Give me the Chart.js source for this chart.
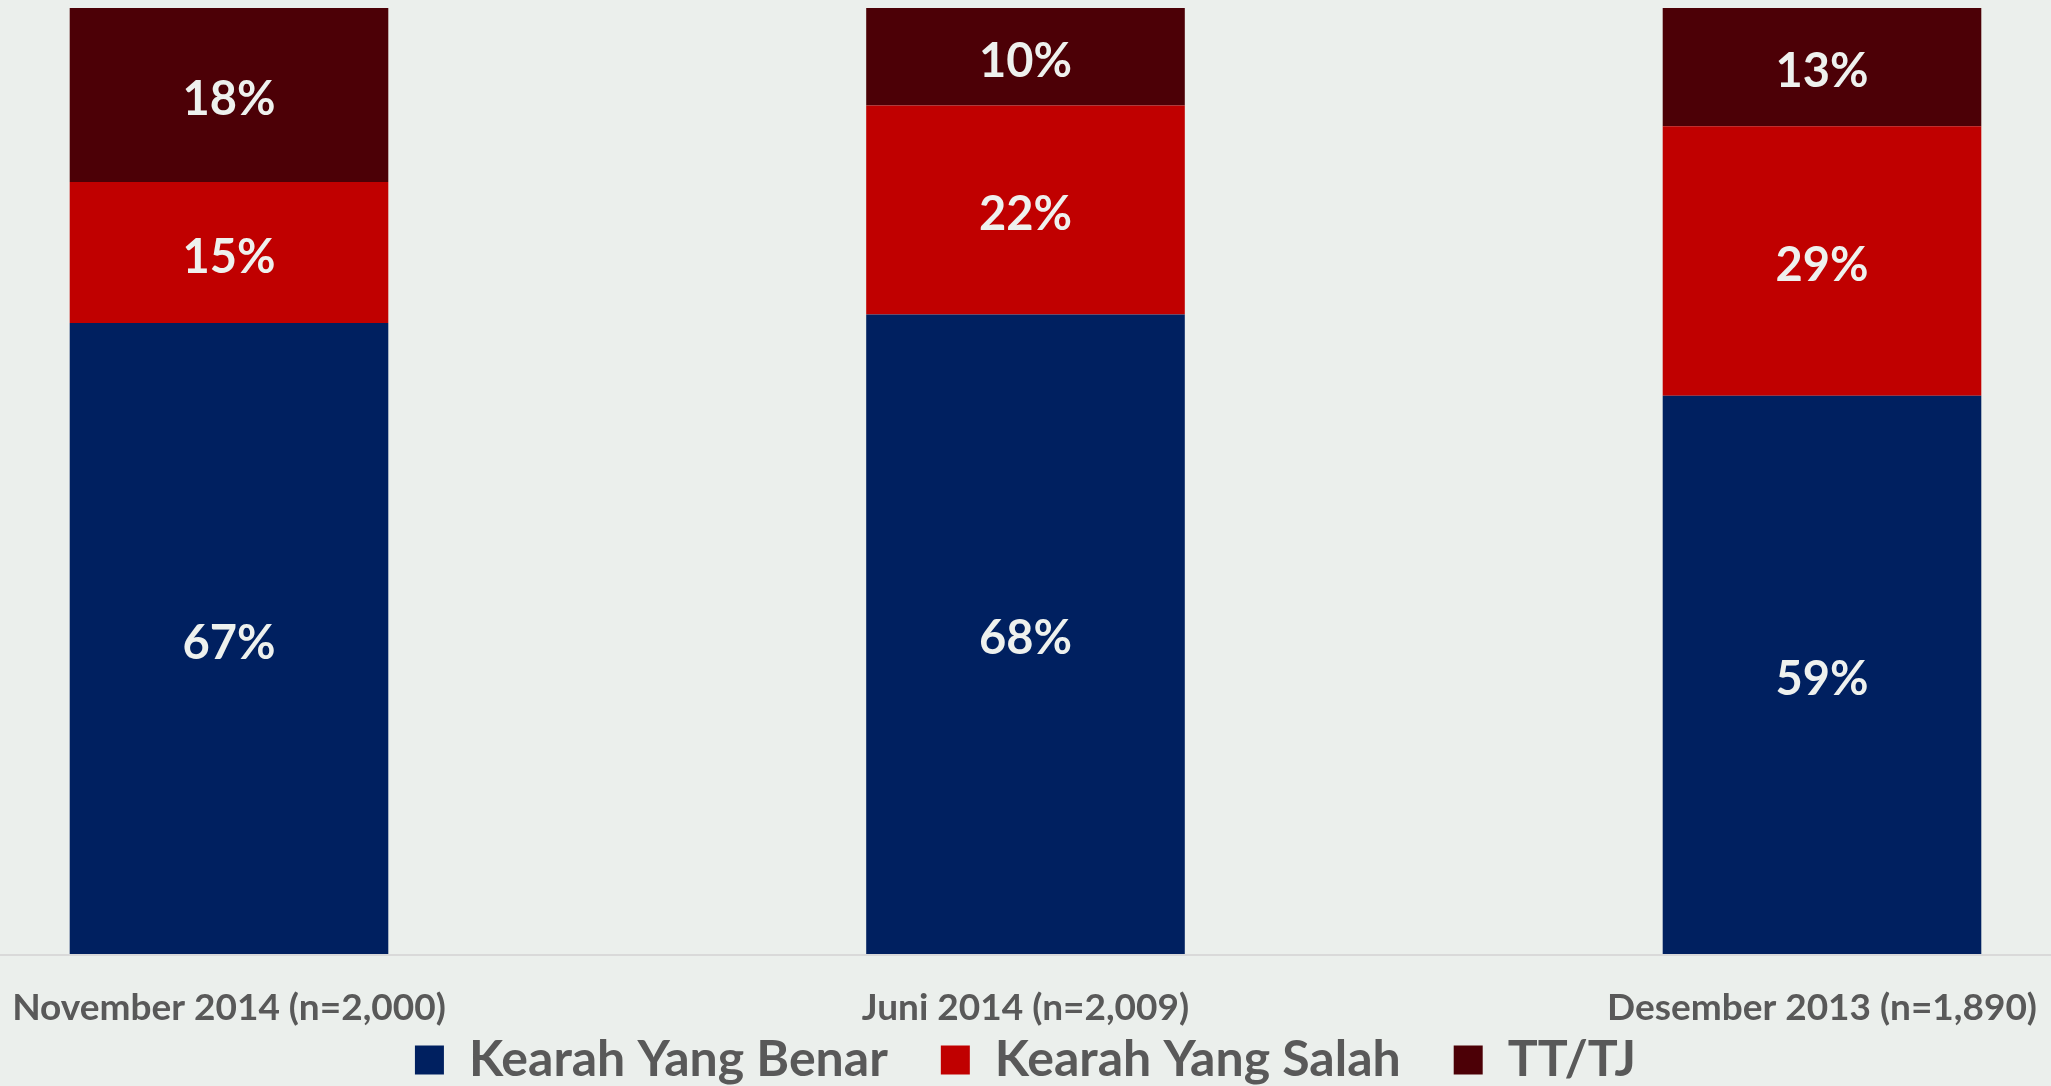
<!DOCTYPE html>
<html>
<head>
<meta charset="utf-8">
<script src="https://cdn.jsdelivr.net/npm/chart.js@4.4.0/dist/chart.umd.min.js"></script>
<style>
html, body { margin: 0; padding: 0; background: #EBEFEC; }
#wrap { width: 2051px; height: 1086px; }
</style>
</head>
<body>
<div id="wrap"><canvas id="ARAH"></canvas></div>
<script>
// data (percent of respondents)
var categories = ['November 2014 (n=2,000)', 'Juni 2014 (n=2,009)', 'Desember 2013 (n=1,890)'];
var seriesNames = ['Kearah Yang Benar', 'Kearah Yang Salah', 'TT/TJ'];
var benar = [66.7, 67.6, 59.0];
var salah = [14.9, 22.1, 28.5];
var ttTj = [18.4, 10.3, 12.5];

var colors = ['#002060', '#C00000', '#4C0006'];
var greyText = '#595959';

// full width base line under the bars
var baseLine = {
    id: 'baseLine',
    beforeDatasetsDraw: function(chart) {
        var ctx = chart.ctx;
        var y = chart.chartArea.bottom + 1;
        ctx.save();
        ctx.strokeStyle = '#D9D9D9';
        ctx.lineWidth = 2;
        ctx.beginPath();
        ctx.moveTo(0, y);
        ctx.lineTo(chart.width, y);
        ctx.stroke();
        ctx.restore();
    }
};

// value labels in the middle of each segment
var segLabels = {
    id: 'segLabels',
    afterDatasetsDraw: function(chart) {
        var ctx = chart.ctx;
        ctx.save();
        ctx.font = 'bold 47px Lato';
        ctx.fillStyle = '#EEF1EE';
        ctx.textAlign = 'center';
        ctx.textBaseline = 'middle';
        chart.data.datasets.forEach(function(ds, i) {
            var meta = chart.getDatasetMeta(i);
            meta.data.forEach(function(bar, j) {
                var v = ds.data[j];
                ctx.fillText(Math.round(v) + '%', bar.x, (bar.y + bar.base) / 2 + 5);
            });
        });
        ctx.restore();
    }
};

var ctxArah = document.getElementById('ARAH').getContext('2d');

var arahChart = new Chart(ctxArah, {
    type: 'bar',
    data: {
        labels: categories,
        datasets: [
            { label: seriesNames[0], data: benar, backgroundColor: colors[0] },
            { label: seriesNames[1], data: salah, backgroundColor: colors[1] },
            { label: seriesNames[2], data: ttTj, backgroundColor: colors[2] }
        ]
    },
    options: {
        responsive: true,
        maintainAspectRatio: false,
        animation: false,
        layout: {
            padding: { left: 229, right: 229, top: 8, bottom: -9 }
        },
        datasets: {
            bar: {
                borderWidth: 0,
                categoryPercentage: 1.0,
                barPercentage: 0.4,
                clip: false
            }
        },
        plugins: {
            legend: {
                position: 'bottom',
                labels: {
                    boxWidth: 29,
                    boxHeight: 29,
                    padding: 53,
                    color: greyText,
                    font: { family: 'Lato', size: 50, weight: 'bold' }
                }
            },
            tooltip: { enabled: false }
        },
        scales: {
            x: {
                stacked: true,
                offset: false,
                grid: { display: false, drawTicks: false },
                border: { display: false },
                ticks: {
                    // mirrored so the labels are not clipped to the shrunk axis box
                    mirror: true,
                    padding: -76,
                    maxRotation: 0,
                    autoSkip: false,
                    color: greyText,
                    font: { family: 'Lato', size: 37, weight: 'bold' }
                },
                // labels hang down into the legend's top padding
                afterFit: function(scale) {
                    scale.height = 28;
                    scale.paddingLeft = 0;
                    scale.paddingRight = 0;
                }
            },
            y: {
                stacked: true,
                display: false,
                min: 0,
                max: 100
            }
        }
    },
    plugins: [baseLine, segLabels]
});
</script>
</body>
</html>
